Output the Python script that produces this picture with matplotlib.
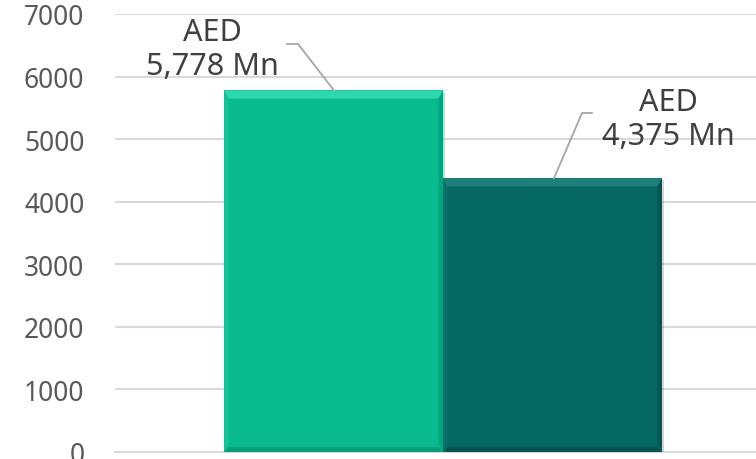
import matplotlib.pyplot as plt
from matplotlib.patches import Polygon
import matplotlib.patheffects as pe

# data
categories = ['2018', '2019']
values = [5778, 4375]
labels = ['AED\n5,778 Mn', 'AED\n4,375 Mn']
bar_colors = ['#07BB8F', '#066862']
light_colors = ['#2FD7AE', '#1E8078']
dark_colors = ['#05926F', '#034A45']
yticks = [0, 1000, 2000, 3000, 4000, 5000, 6000, 7000]

plt.rcParams['font.family'] = ['Noto Sans', 'DejaVu Sans']

fig = plt.figure(figsize=(7.56, 4.6), dpi=100)
ax = fig.add_axes([115 / 756, 7 / 460, 656 / 756, 438 / 460])

xpos = [-0.5, 0.5]
w = 1.0
bars = ax.bar(xpos, values, width=w, color=bar_colors, zorder=3,
              path_effects=[pe.SimplePatchShadow(offset=(1.5, -1.5), alpha=0.3, shadow_rgbFace='#777777'),
                            pe.Normal()])

# bevel edges built from the bar geometry
bx = 0.02
by = 130
for i, b in enumerate(bars):
    x0 = b.get_x()
    x1 = x0 + b.get_width()
    h = b.get_height()
    top = Polygon([(x0, h), (x1, h), (x1 - bx, h - by), (x0 + bx, h - by)],
                  closed=True, color=light_colors[i], zorder=4, lw=0)
    left = Polygon([(x0, 0), (x0, h), (x0 + bx, h - by), (x0 + bx, by)],
                   closed=True, color=light_colors[i], alpha=0.3, zorder=4, lw=0)
    right = Polygon([(x1, 0), (x1, h), (x1 - bx, h - by), (x1 - bx, by)],
                    closed=True, color=dark_colors[i], alpha=0.6, zorder=4, lw=0)
    bottom = Polygon([(x0, 0), (x1, 0), (x1 - bx, by * 0.6), (x0 + bx, by * 0.6)],
                     closed=True, color=dark_colors[i], alpha=0.7, zorder=4, lw=0)
    for p in (top, left, right, bottom):
        ax.add_patch(p)

ax.set_xlim(-1.5, 1.5)
ax.set_ylim(0, 7000)
ax.set_yticks(yticks)
ax.set_xticks([])
ax.yaxis.grid(True, color='#D9D9D9', lw=1.5, zorder=0)
ax.tick_params(axis='y', length=0, pad=22, labelsize=19, labelcolor='#595959')
for s in ['top', 'right', 'left']:
    ax.spines[s].set_visible(False)
ax.spines['bottom'].set_color('#D9D9D9')
ax.spines['bottom'].set_linewidth(1.5)

# labels with leader lines
label_pos = [(-1.056, 6440), (1.029, 5320)]
leader_pts = [
    [(-0.713, 6521), (-0.663, 6521), (-0.4985, 5778)],
    [(0.681, 5418), (0.636, 5418), (0.5076, 4375)],
]
for i in range(2):
    ax.text(label_pos[i][0], label_pos[i][1], labels[i], ha='center', va='center',
            fontsize=22, color='#404040', linespacing=1.2, zorder=6)
    xs = [p[0] for p in leader_pts[i]]
    ys = [p[1] for p in leader_pts[i]]
    ax.plot(xs, ys, color='#A6A6A6', lw=1.3, zorder=5, clip_on=False)

fig.savefig('out.png', dpi=100)
